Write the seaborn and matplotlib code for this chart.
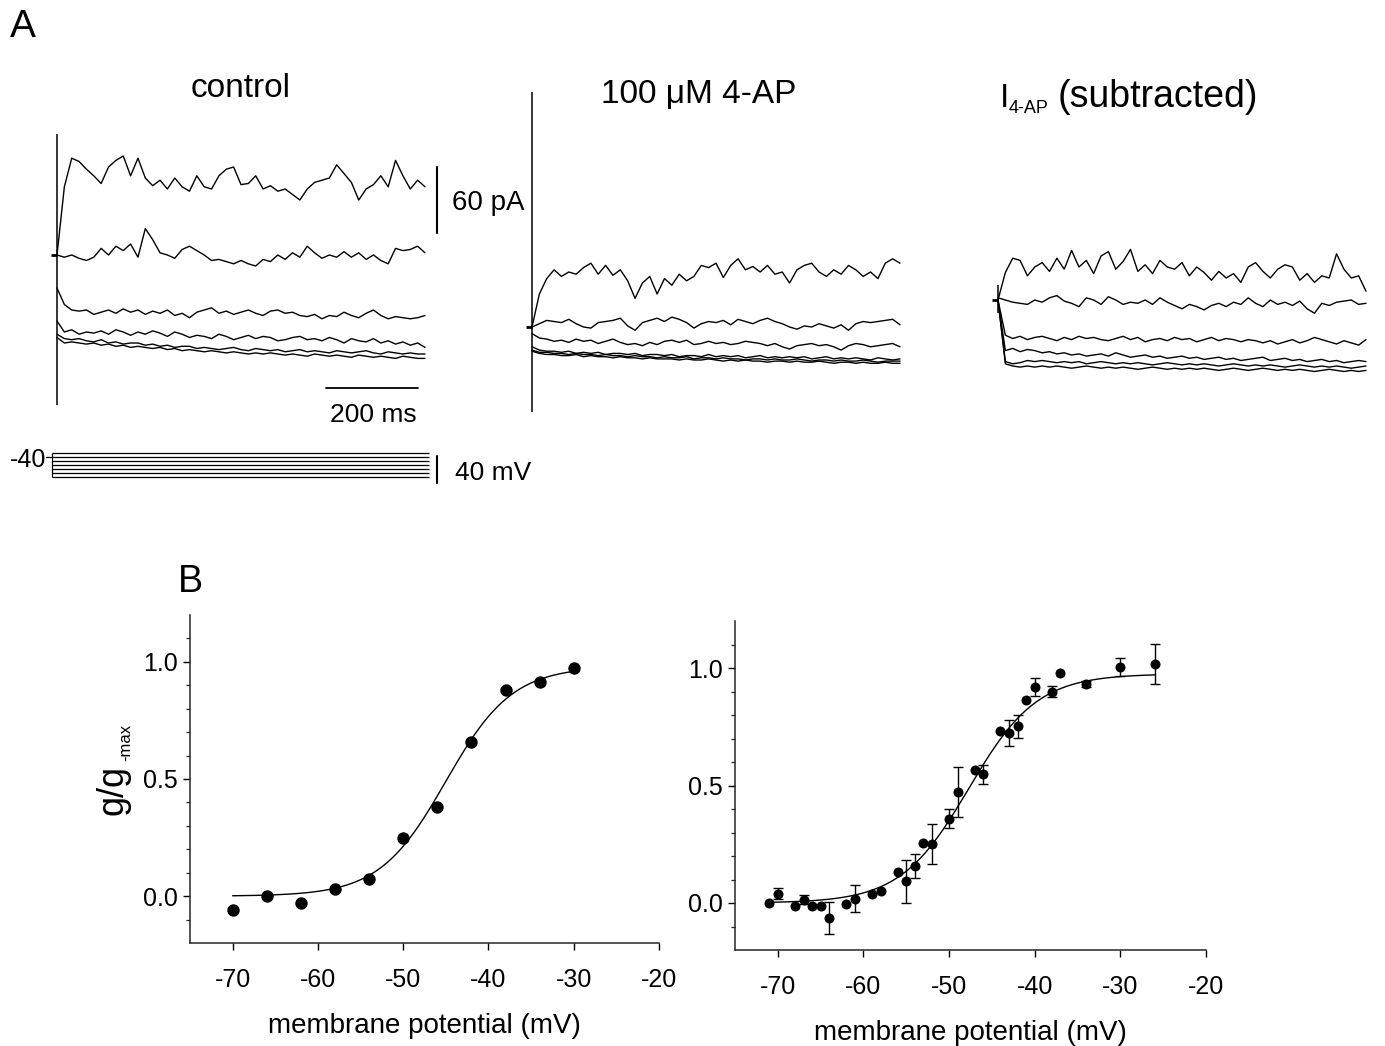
import numpy as np
import pandas as pd
import matplotlib
matplotlib.use("Agg")
import matplotlib.pyplot as plt
import seaborn as sns

# ------------------------------------------------------------------ data
# Panel A: current traces (pA, relative to holding), sampled every 16 ms, 0..800 ms
T_MS = np.arange(0, 801, 16)

ctrl_1 = [0, 62, 88, 85, 78, 72, 65, 80, 86, 90, 72, 88, 70, 63, 68, 60, 70, 62, 58, 72,
          62, 60, 72, 78, 80, 64, 65, 72, 60, 63, 58, 60, 55, 50, 60, 66, 68, 70, 82, 74,
          66, 50, 60, 64, 72, 62, 86, 72, 60, 68, 62]
ctrl_2 = [0, -2, 0, -3, -5, -2, 6, 0, 8, 4, 10, -2, 24, 14, 2, 0, -3, 5, 8, 4,
          0, -5, -4, -6, -8, -5, -8, -10, -4, -6, 0, -4, 2, -2, 8, 2, -3, 0, -2, 3,
          -2, 2, -4, 0, -5, -8, 6, 4, 5, 8, 2]
ctrl_3 = [-30, -45, -50, -51, -50, -54, -52, -50, -53, -49, -52, -50, -54, -51, -53, -50, -55, -53, -57, -52,
          -50, -48, -53, -51, -54, -52, -50, -53, -55, -51, -50, -53, -52, -55, -56, -54, -58, -55, -56, -52,
          -55, -57, -53, -50, -55, -58, -56, -57, -58, -57, -55]
ctrl_4 = [-60, -70, -68, -72, -70, -71, -69, -72, -68, -70, -73, -70, -72, -69, -71, -74, -70, -72, -75, -73,
          -74, -76, -72, -74, -77, -75, -73, -76, -74, -75, -78, -77, -75, -74, -77, -76, -78, -75, -77, -80,
          -76, -78, -79, -76, -80, -78, -81, -79, -82, -80, -84]
ctrl_5 = [-72, -76, -77, -76, -78, -79, -77, -80, -79, -81, -80, -80, -82, -81, -83, -82, -84, -83, -83, -85,
          -84, -85, -86, -85, -84, -86, -87, -85, -86, -87, -86, -88, -87, -86, -88, -87, -88, -89, -87, -88,
          -89, -88, -87, -89, -90, -88, -89, -90, -89, -90, -90]
ctrl_6 = [-75, -80, -79, -80, -81, -80, -82, -81, -83, -82, -84, -83, -84, -85, -84, -86, -85, -87, -86, -87,
          -88, -87, -88, -89, -88, -89, -90, -89, -90, -89, -90, -91, -90, -91, -92, -90, -91, -92, -91, -92,
          -93, -91, -92, -93, -92, -93, -94, -92, -93, -94, -94]

ap_1 = [0, 30, 44, 52, 46, 50, 48, 54, 58, 48, 56, 47, 52, 42, 26, 40, 46, 30, 44, 38,
        48, 42, 46, 56, 54, 58, 45, 56, 62, 52, 55, 50, 56, 48, 50, 40, 52, 56, 58, 50,
        46, 52, 48, 56, 52, 46, 50, 44, 58, 62, 58]
ap_2 = [0, 3, 6, 5, 4, 7, 3, 0, -1, 4, 5, 6, 8, 1, -3, 4, 6, 8, 5, 9,
        7, 4, -1, 3, 5, 4, 6, 2, 7, 5, 3, 6, 8, 5, 3, 0, -2, 1, 0, 3,
        1, -1, 2, -3, 3, 5, 4, 5, 6, 7, 2]
ap_3 = [-6, -10, -11, -13, -12, -14, -11, -13, -12, -15, -13, -11, -14, -16, -15, -17, -14, -16, -13, -12,
        -14, -12, -16, -15, -13, -15, -14, -16, -15, -13, -14, -15, -17, -15, -18, -20, -17, -16, -15, -17,
        -16, -18, -21, -17, -15, -16, -18, -17, -16, -15, -18]
ap_4 = [-18, -21, -22, -22, -23, -22, -24, -23, -24, -23, -25, -24, -24, -25, -24, -26, -25, -25, -26, -25,
        -27, -26, -26, -27, -25, -27, -26, -27, -26, -28, -27, -26, -28, -27, -28, -27, -28, -27, -29, -28,
        -27, -29, -28, -29, -28, -29, -30, -28, -29, -30, -29]
ap_5 = [-21, -23, -23, -24, -24, -25, -24, -25, -25, -26, -25, -26, -26, -27, -26, -27, -27, -28, -27, -28,
        -28, -27, -29, -28, -28, -29, -28, -29, -29, -30, -29, -29, -30, -29, -30, -30, -29, -30, -31, -30,
        -30, -31, -30, -31, -31, -30, -31, -32, -31, -31, -31]
ap_6 = [-22, -24, -25, -25, -26, -26, -25, -27, -26, -27, -27, -28, -27, -28, -28, -29, -28, -29, -29, -29,
        -30, -29, -30, -30, -29, -30, -31, -30, -31, -30, -31, -31, -32, -31, -31, -32, -31, -32, -32, -31,
        -32, -33, -32, -32, -33, -32, -33, -33, -32, -33, -33]

sub_1 = [0, 25, 38, 36, 22, 30, 34, 26, 38, 28, 45, 30, 36, 24, 40, 44, 28, 35, 46, 26,
         32, 24, 36, 30, 28, 34, 22, 30, 25, 18, 26, 20, 24, 16, 30, 34, 26, 20, 28, 32,
         30, 18, 24, 16, 22, 20, 42, 28, 20, 22, 8]
sub_2 = [2, 0, -2, -3, -4, 0, -2, 2, 4, -1, -3, -6, 2, 0, -4, 3, 0, -4, -2, -3,
         0, -4, 2, -2, -5, -8, -4, -6, -9, -5, -3, -6, -2, -4, 2, -3, -6, 0, -4, -2,
         -5, -1, -8, -12, -3, -5, -2, -1, 0, -4, -3]
sub_3 = [0, -32, -35, -33, -36, -34, -33, -35, -37, -34, -36, -33, -35, -34, -36, -37, -35, -33, -36, -34,
         -38, -36, -35, -37, -34, -36, -35, -38, -36, -34, -37, -35, -36, -38, -36, -37, -39, -37, -40, -38,
         -36, -39, -37, -34, -36, -38, -40, -37, -39, -41, -36]
sub_4 = [0, -46, -44, -47, -45, -46, -48, -47, -49, -48, -50, -49, -51, -50, -49, -51, -48, -50, -52, -51,
         -50, -52, -51, -53, -52, -51, -53, -52, -54, -53, -52, -54, -53, -55, -54, -53, -52, -55, -54, -53,
         -55, -54, -56, -55, -54, -56, -55, -57, -56, -55, -56]
sub_5 = [0, -56, -58, -57, -55, -56, -55, -56, -57, -56, -57, -56, -58, -57, -56, -57, -58, -57, -58, -57,
         -58, -59, -58, -57, -58, -59, -58, -59, -58, -59, -60, -59, -58, -59, -60, -59, -60, -59, -60, -61,
         -60, -59, -60, -61, -60, -61, -60, -61, -62, -61, -60]
sub_6 = [0, -58, -60, -61, -60, -61, -60, -61, -60, -61, -62, -61, -60, -61, -62, -61, -62, -61, -62, -63,
         -62, -61, -62, -63, -62, -63, -62, -63, -62, -63, -64, -63, -62, -63, -64, -63, -62, -63, -64, -63,
         -64, -63, -64, -65, -64, -63, -64, -65, -64, -65, -64]

# capacitive artefact extent at step onset (pA): (top, bottom)
ARTIFACT_CTRL = (110, -136)
ARTIFACT_4AP = (214, -77)
ARTIFACT_SUB = (14, -12)

# voltage protocol (mV)
STEP_MV = [-34, -40, -46, -52, -58, -64, -70]
HOLD_MV = -40

# Panel B: conductance-voltage
left_V = [-70, -66, -62, -58, -54, -50, -46, -42, -38, -34, -30]
left_g = [-0.06, 0.0, -0.03, 0.03, 0.075, 0.25, 0.38, 0.66, 0.88, 0.915, 0.975]

right_V = [-71, -70, -68, -67, -66, -65, -64, -62, -61, -59, -58, -56, -55, -54, -53,
           -52, -50, -49, -47, -46, -44, -43, -42, -41, -40, -38, -37, -34, -30, -26]
right_g = [0.0, 0.04, -0.014, 0.014, -0.013, -0.014, -0.064, -0.004, 0.018, 0.04, 0.051, 0.132, 0.092, 0.157, 0.257,
           0.252, 0.359, 0.472, 0.565, 0.548, 0.732, 0.725, 0.752, 0.865, 0.919, 0.90, 0.98, 0.933, 1.004, 1.016]
right_err = [0, 0.024, 0, 0.02, 0, 0, 0.07, 0, 0.058, 0, 0, 0, 0.093, 0.051, 0,
             0.085, 0.041, 0.106, 0, 0.04, 0, 0.055, 0.049, 0, 0.04, 0.025, 0, 0.012, 0.04, 0.085]

# Boltzmann fit parameters (amplitude, V1/2, slope)
left_fit = (0.98, -45.0, 3.9)
right_fit = (0.975, -47.7, 4.0)

# ------------------------------------------------------------------ style
sns.set_theme(style="ticks")
plt.rcParams["font.family"] = ["Liberation Sans", "DejaVu Sans"]
plt.rcParams["axes.linewidth"] = 1.1

W, H = 1385, 1046
fig = plt.figure(figsize=(W / 100, H / 100), dpi=100)
fig.patch.set_facecolor("white")


def rect(x0, y0, x1, y1):
    return [x0 / W, 1 - y1 / H, (x1 - x0) / W, (y1 - y0) / H]


def ftext(x, y, s, **kw):
    kw.setdefault("color", "black")
    return fig.text(x / W, 1 - y / H, s, **kw)


MS_PER_PX = 200 / 92
PA_PER_PX = 60 / 66
MV_PER_PX = 40 / 27


def trace_axes(box, origin):
    ax = fig.add_axes(rect(*box))
    x0, y0, x1, y1 = box
    ox, oy = origin
    ax.set_xlim((x0 - ox) * MS_PER_PX, (x1 - ox) * MS_PER_PX)
    ax.set_ylim((oy - y1) * PA_PER_PX, (oy - y0) * PA_PER_PX)
    ax.axis("off")
    return ax


def draw_traces(ax, traces, artifact):
    frames = []
    for i, tr in enumerate(traces):
        frames.append(pd.DataFrame({"t": T_MS, "I": tr, "trace": i}))
    df = pd.concat(frames, ignore_index=True)
    sns.lineplot(data=df, x="t", y="I", units="trace", estimator=None, color="black",
                 lw=1.0, ax=ax, legend=False)
    ax.vlines(0, artifact[1], artifact[0], color="black", lw=1.1)
    # short pre-step holding segment
    ax.plot([-14, 0], [0, 0], color="black", lw=2.0, solid_capstyle="butt")


# ------------------------------------------------------------------ panel A
ax_c = trace_axes((40, 110, 545, 500), (57, 255))
draw_traces(ax_c, [ctrl_1, ctrl_2, ctrl_3, ctrl_4, ctrl_5, ctrl_6], ARTIFACT_CTRL)
ax_c.plot([585, 785], [-121, -121], color="black", lw=1.3)   # 200 ms bar
ax_c.plot([826, 826], [20, 80], color="black", lw=1.5)        # 60 pA bar

ax_a = trace_axes((515, 80, 960, 430), (532, 327))
draw_traces(ax_a, [ap_1, ap_2, ap_3, ap_4, ap_5, ap_6], ARTIFACT_4AP)

ax_s = trace_axes((975, 230, 1385, 390), (998, 300))
draw_traces(ax_s, [sub_1, sub_2, sub_3, sub_4, sub_5, sub_6], ARTIFACT_SUB)

# voltage protocol
ax_v = fig.add_axes(rect(40, 440, 545, 495))
ax_v.set_xlim((40 - 57) * MS_PER_PX, (545 - 57) * MS_PER_PX)
ax_v.set_ylim(HOLD_MV - (495 - 457) * MV_PER_PX, HOLD_MV + (457 - 440) * MV_PER_PX)
ax_v.axis("off")
ax_v.hlines(STEP_MV, -11, 808, color="black", lw=0.9)
ax_v.vlines(-11, min(STEP_MV), max(STEP_MV), color="black", lw=0.9)
ax_v.plot([-24, -11], [HOLD_MV, HOLD_MV], color="black", lw=0.9)
ax_v.plot([826, 826], [-38, -78], color="black", lw=1.5)     # 40 mV bar

# panel A texts
ftext(10, 37, "A", fontsize=28, ha="left", va="baseline")
ftext(241, 97, "control", fontsize=24, ha="center", va="baseline")
ftext(699, 103, "100 \u03bcM 4-AP", fontsize=24, ha="center", va="baseline")
ftext(1000, 107, "I", fontsize=24, ha="left", va="baseline")
ftext(1009, 113, "4-AP", fontsize=13, ha="left", va="baseline")
ftext(1058, 107, "(subtracted)", fontsize=27, ha="left", va="baseline")
ftext(452, 210, "60 pA", fontsize=20, ha="left", va="baseline")
ftext(330, 422, "200 ms", fontsize=19, ha="left", va="baseline")
ftext(455, 480, "40 mV", fontsize=19, ha="left", va="baseline")
ftext(46, 467, "-40", fontsize=18, ha="right", va="baseline")

# ------------------------------------------------------------------ panel B
ftext(178, 592, "B", fontsize=27, ha="left", va="baseline")

axL = fig.add_axes(rect(190, 615, 659, 943))
axR = fig.add_axes(rect(735, 621, 1206, 950))


def boltz(v, p):
    a, vh, k = p
    return a / (1 + np.exp((vh - v) / k))


vL = np.linspace(min(left_V), max(left_V), 300)
vR = np.linspace(min(right_V), max(right_V), 300)
sns.lineplot(x=vL, y=boltz(vL, left_fit), ax=axL, color="black", lw=1.0)
sns.lineplot(x=vR, y=boltz(vR, right_fit), ax=axR, color="black", lw=1.0)

sns.scatterplot(x=left_V, y=left_g, ax=axL, color="black", s=80, linewidth=0, zorder=3)

rv = np.array(right_V)
rg = np.array(right_g)
re = np.array(right_err)
m = re > 0
axR.errorbar(rv[m], rg[m], yerr=re[m], fmt="none", ecolor="black", elinewidth=1.0,
             capsize=3.5, capthick=1.0, zorder=2)
sns.scatterplot(x=right_V, y=right_g, ax=axR, color="black", s=52, linewidth=0, zorder=3)

for ax in (axL, axR):
    ax.set_xlim(-75, -20)
    ax.set_ylim(-0.2, 1.2)
    sns.despine(ax=ax)
    ax.set_xticks([-70, -60, -50, -40, -30, -20])
    ax.set_xticklabels(["-70", "-60", "-50", "-40", "-30", "-20"])
    ax.set_yticks([0.0, 0.5, 1.0])
    ax.set_yticklabels(["0.0", "0.5", "1.0"])
    ax.set_yticks(np.arange(-0.1, 1.15, 0.1), minor=True)
    ax.tick_params(axis="both", which="major", direction="out", length=5, width=1.0,
                   labelsize=18, colors="black")
    ax.tick_params(axis="x", which="major", pad=13)
    ax.tick_params(axis="y", which="major", pad=4)
    ax.tick_params(axis="y", which="minor", direction="out", length=3, width=0.9)
    ax.set_xlabel("membrane potential (mV)", fontsize=20, labelpad=15, color="black")
    ax.set_ylabel("")
    ax.set_facecolor("white")

ftext(113, 790, "g/g", fontsize=26, rotation=90, ha="center", va="center")
ftext(126, 742, "-max", fontsize=12, rotation=90, ha="center", va="center")

fig.savefig("out.png", dpi=100)
